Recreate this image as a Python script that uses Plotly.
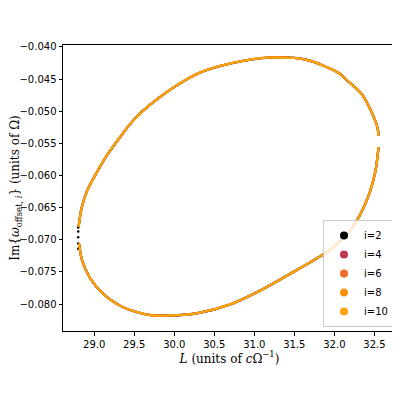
import plotly.graph_objects as go

# values (same curve for every i, they overlap)
series_names = ["i=2", "i=4", "i=6", "i=8", "i=10"]
series_colors = ["#000000", "#bc3754", "#ed6925", "#f98e09", "#fca50a"]

L_curve = [28.805, 28.84, 28.911, 29.033, 29.156, 29.278, 29.441, 29.604, 29.809, 30.054,
           30.30, 30.71, 31.20, 31.65, 32.06, 32.158, 32.34, 32.46, 32.54, 32.55, None,
           32.55, 32.545, 32.51, 32.44, 32.33, 32.17, 31.92, 31.56, 31.12, 30.71,
           30.30, 29.93, 29.686, 29.36, 29.11, 28.95, 28.85, 28.81]
im_curve = [-0.0680, -0.0652, -0.0624, -0.0595, -0.0569, -0.0548, -0.0521, -0.0500, -0.0479, -0.0458,
            -0.0441, -0.04255, -0.04166, -0.0420, -0.0441, -0.0452, -0.0473, -0.0500, -0.0526, -0.0538, None,
            -0.0556, -0.0564, -0.0595, -0.0627, -0.0659, -0.0690, -0.0718, -0.0745, -0.0776, -0.0800,
            -0.0814, -0.0818, -0.0817, -0.0805, -0.0784, -0.0760, -0.0733, -0.0706]

# the few i=2 points that show through on the left edge
L_black_dots = [28.80, 28.80, 28.80, 28.80, 28.80]
im_black_dots = [-0.0681, -0.0687, -0.0696, -0.0706, -0.0714]

fig = go.Figure()

for k, (name, col) in enumerate(zip(series_names, series_colors)):
    fig.add_trace(go.Scatter(
        x=L_curve, y=im_curve, mode="lines",
        line=dict(color=col, width=2.4 if k == 0 else 2, shape="spline", smoothing=0.8),
        showlegend=False, legendgroup=name, hoverinfo="skip",
    ))
    if k == 0:
        fig.add_trace(go.Scatter(
            x=L_black_dots, y=im_black_dots, mode="markers",
            marker=dict(color=col, size=2.5),
            showlegend=False, legendgroup=name, hoverinfo="skip",
        ))

# legend entries with round markers like the original
for name, col in zip(series_names, series_colors):
    fig.add_trace(go.Scatter(
        x=[None], y=[None], mode="markers", name=name, legendgroup=name,
        marker=dict(color=col, size=8),
    ))

axis_common = dict(
    showline=True, linecolor="black", linewidth=1, mirror=True,
    ticks="outside", ticklen=3.5, tickcolor="black", tickwidth=1,
    showgrid=False, zeroline=False, automargin=False,
    tickfont=dict(family="DejaVu Sans", size=10, color="black"),
)

# page body adds 8px, so the figure is a bit smaller than the window
fig.update_layout(
    width=392, height=384,
    margin=dict(l=55, r=4, t=37, b=61),
    plot_bgcolor="white", paper_bgcolor="white",
    xaxis=dict(
        range=[28.61, 32.77], dtick=0.5, tickformat=".1f",
        title=dict(text="<i>L</i> (units of <i>c</i>Ω<sup>−1</sup>)",
                   font=dict(family="DejaVu Serif", size=12, color="black"), standoff=3),
        **axis_common,
    ),
    yaxis=dict(
        range=[-0.0842, -0.0397], dtick=0.005, tickformat=".3f",
        title=dict(text="Im{<i>ω</i><sub>offset, <i>i</i></sub>} (units of Ω)",
                   font=dict(family="DejaVu Serif", size=12, color="black"), standoff=4),
        **axis_common,
    ),
    legend=dict(
        x=0.994, y=0.014, xanchor="right", yanchor="bottom",
        bgcolor="rgba(255,255,255,0.8)", bordercolor="#cccccc", borderwidth=1,
        font=dict(family="DejaVu Sans", size=10, color="black"),
        tracegroupgap=0, itemwidth=30,
    ),
)

fig.write_html("out.html")
